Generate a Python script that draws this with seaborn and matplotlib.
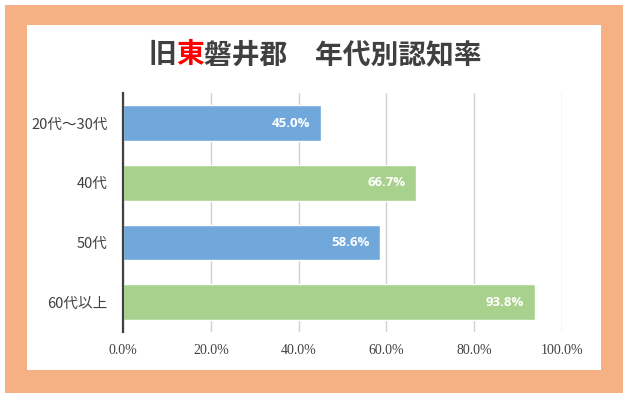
import matplotlib
matplotlib.use("Agg")
import matplotlib.pyplot as plt
import seaborn as sns
import pandas as pd
from matplotlib.patches import Rectangle

categories = ["20代～30代", "40代", "50代", "60代以上"]
values = [45.0, 66.7, 58.6, 93.8]
bar_colors = ["#70A8DC", "#A9D18E", "#70A8DC", "#A9D18E"]
xticks = [0, 20, 40, 60, 80, 100]
xtick_labels = ["0.0%", "20.0%", "40.0%", "60.0%", "80.0%", "100.0%"]
title_parts = [("旧", "#404040"), ("東", "#FF0000"), ("磐井郡　年代別認知率", "#404040")]

sns.set_theme(style="white")
plt.rcParams['font.family'] = ['Noto Sans CJK JP', 'DejaVu Sans']

W, H = 630, 399
fig = plt.figure(figsize=(6.3, 3.99), dpi=100)
fig.patch.set_facecolor("white")


def px_rect(x0, y0, x1, y1, color):
    fig.patches.append(Rectangle((x0 / W, 1 - y1 / H), (x1 - x0) / W, (y1 - y0) / H,
                                 transform=fig.transFigure, facecolor=color,
                                 edgecolor='none', zorder=-2))


px_rect(5, 5, 623, 393, "#F5B183")
px_rect(27, 25, 601, 370, "white")

ax = fig.add_axes([123 / W, 1 - 332 / H, (562 - 123) / W, (332 - 93.5) / H])
ax.set_zorder(2)
ax.patch.set_alpha(0)
df = pd.DataFrame({"cat": categories, "val": values})
sns.barplot(data=df, x="val", y="cat", hue="cat", palette=bar_colors, orient="h",
            width=0.6, legend=False, ax=ax, saturation=1)

ax.set_xlim(0, 100)
ax.set_ylim(3.5, -0.5)
ax.set_xticks(xticks)
ax.set_xticklabels(xtick_labels, fontfamily="Liberation Serif", fontsize=10, color="#404040")
ax.tick_params(axis="x", length=0, pad=9)
ax.tick_params(axis="y", length=0, pad=11, labelsize=10.5, labelcolor="#404040")
ax.set_xlabel("")
ax.set_ylabel("")
ax.xaxis.grid(True, color="#D0D0D0", lw=1)
ax.set_axisbelow(True)
for s in ["top", "right", "bottom"]:
    ax.spines[s].set_visible(False)
ax.spines["left"].set_color("#404040")
ax.spines["left"].set_linewidth(1.6)
ax.spines["left"].set_zorder(5)

for i, v in enumerate(values):
    ax.annotate(f"{v:.1f}%", xy=(v, i), xytext=(-7.5, 0), textcoords="offset points",
                ha="right", va="center", color="white", fontweight="bold", fontsize=9.5,
                fontfamily=["Open Sans", "DejaVu Sans"])

renderer = fig.canvas.get_renderer()
texts = []
for s, c in title_parts:
    t = fig.text(0, 1 - 55 / H, s, color=c, fontsize=20, fontweight="bold",
                 ha="left", va="center")
    texts.append(t)
widths = [t.get_window_extent(renderer).width for t in texts]
total = sum(widths)
x = 315 - total / 2
for t, w in zip(texts, widths):
    t.set_x(x / W)
    x += w

fig.savefig("out.png", dpi=100)
